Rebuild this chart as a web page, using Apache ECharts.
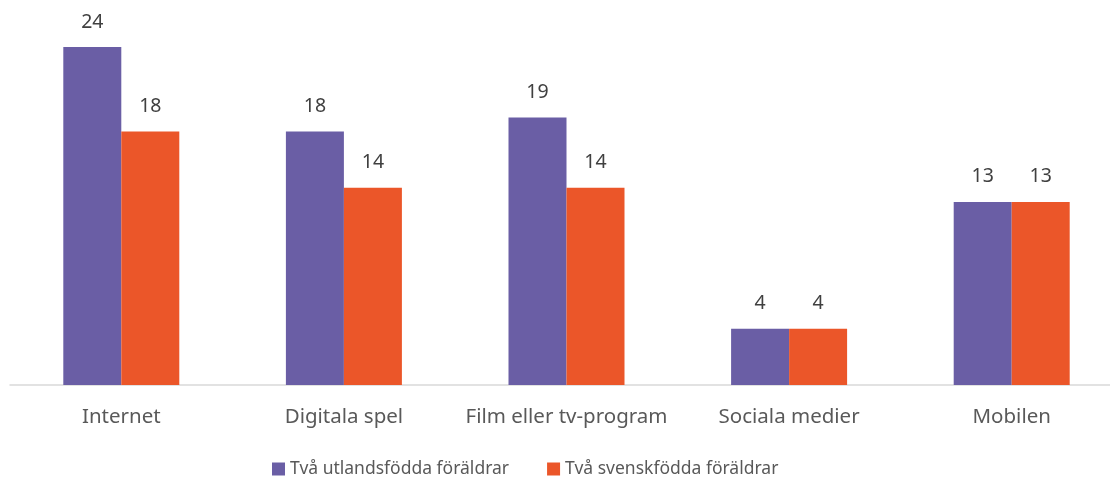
<!DOCTYPE html>
<html>
<head>
<meta charset="utf-8">
<script src="https://cdn.jsdelivr.net/npm/echarts@6/dist/echarts.min.js"></script>
<style>
  html, body { margin: 0; padding: 0; background: #fff; }
  #chart { width: 1110px; height: 480px; }
</style>
</head>
<body>
<div id="chart"></div>
<script>
// kategorier och värden
const categories = ['Internet', 'Digitala spel', 'Film eller tv-program', 'Sociala medier', 'Mobilen'];
const utlandsfodda = [24, 18, 19, 4, 13];
const svenskfodda = [18, 14, 14, 4, 13];
const seriesNames = ['Två utlandsfödda föräldrar', 'Två svenskfödda föräldrar'];

const font = '"Noto Sans", "Open Sans", sans-serif';
const chart = echarts.init(document.getElementById('chart'));

chart.setOption({
    backgroundColor: '#ffffff',
    animation: false,
    textStyle: { fontFamily: font },
    legend: {
        top: 455,
        left: 267,
        icon: 'rect',
        itemWidth: 13,
        itemHeight: 13,
        itemGap: 38,
        textStyle: { color: '#595959', fontSize: 17.5, fontFamily: font },
        data: seriesNames
    },
    grid: {
        left: 10,
        top: 47,
        width: 1113,
        height: 338,
        outerBoundsMode: 'none',
        containLabel: false
    },
    xAxis: {
        type: 'category',
        data: categories,
        axisLine: { lineStyle: { color: '#d9d9d9', width: 1.5 } },
        axisTick: { show: false },
        axisLabel: {
            color: '#595959',
            fontSize: 20.5,
            fontFamily: font,
            margin: 22,
            interval: 0
        }
    },
    yAxis: {
        type: 'value',
        min: 0,
        max: 24,
        show: false,
        splitLine: { show: false }
    },
    series: [
        {
            name: seriesNames[0],
            type: 'bar',
            barWidth: 58,
            barGap: '0%',
            itemStyle: { color: '#6a5ea5' },
            label: {
                show: true,
                position: 'top',
                distance: 15,
                color: '#404040',
                fontSize: 19.5,
                fontFamily: font
            },
            data: utlandsfodda
        },
        {
            name: seriesNames[1],
            type: 'bar',
            barWidth: 58,
            barGap: '0%',
            itemStyle: { color: '#eb5629' },
            label: {
                show: true,
                position: 'top',
                distance: 15,
                color: '#404040',
                fontSize: 19.5,
                fontFamily: font
            },
            data: svenskfodda
        }
    ]
});
</script>
</body>
</html>
